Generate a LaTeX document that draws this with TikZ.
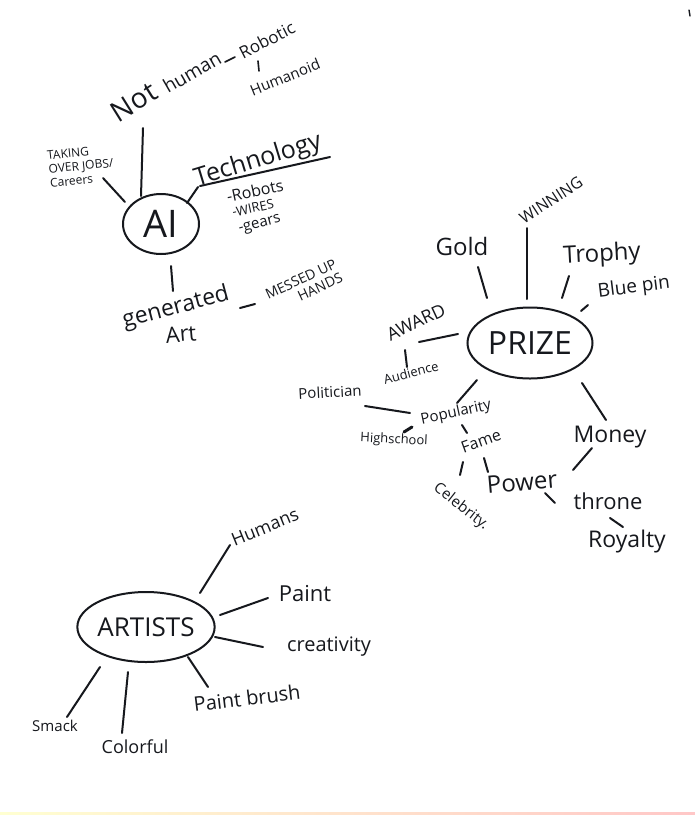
\documentclass[tikz,border=0pt]{standalone}
\usepackage{fontspec}
\setmainfont{Open Sans}
\usetikzlibrary{shapes.geometric}
\definecolor{ink}{HTML}{16181D}
\newcommand{\hsz}[1]{\fontsize{#1}{#1}\selectfont}
\begin{document}
\begin{tikzpicture}[x=1pt,y=-1pt,
  hw/.style={text=ink, inner sep=0pt, anchor=center},
  conn/.style={draw=ink, line width=2pt, line cap=round},
  bubble/.style={draw=ink, line width=2pt, ellipse, inner sep=0pt, text=ink}]
\useasboundingbox (0,0) rectangle (695,815);
\fill[white] (0,0) rectangle (695,815);
\shade[left color=yellow!18, right color=red!22] (0,812) rectangle (695,815);
\draw[ink, line width=1.4pt, line cap=round] (689,10) -- (690,16);

% ---------------- AI ----------------
\node[bubble, minimum width=76pt, minimum height=60pt, font=\hsz{38}] (ai) at (161,224) {AI};
\node[hw, font=\hsz{28}, rotate=32] (not) at (134,102) {Not};
\node[hw, font=\hsz{19}, rotate=30] (human) at (192,72) {human};
\node[hw, font=\hsz{17}, rotate=27] (robotic) at (267,40) {Robotic};
\node[hw, font=\hsz{15}, rotate=22] (humanoid) at (285,77) {Humanoid};
\node[hw, font=\fontsize{12}{14}\selectfont, align=left, rotate=6] (jobs) at (81,166) {TAKING\\OVER JOBS/\\Careers};
\node[hw, font=\hsz{25}, rotate=17] (tech) at (258,161) {Technology};
\node[hw, font=\hsz{16}, rotate=12] (robots) at (255,191) {-Robots};
\node[hw, font=\hsz{13}, rotate=12] (wires) at (253,208) {-WIRES};
\node[hw, font=\hsz{15}, rotate=15] (gears) at (260,225) {-gears};
\node[hw, font=\hsz{23}, rotate=15] (gen) at (176,308) {generated};
\node[hw, font=\hsz{22}, rotate=5] (art) at (181,334) {Art};
\node[hw, font=\fontsize{14}{15}\selectfont, align=right, rotate=25] (messed) at (304,286) {MESSED UP\\HANDS};

\coordinate (c1a) at (141,196); \coordinate (c1b) at (143,128);
\coordinate (c2a) at (125,202); \coordinate (c2b) at (103,178);
\coordinate (c3a) at (187,203); \coordinate (c3b) at (198,187);
\coordinate (u1a) at (200,186); \coordinate (u1b) at (330,157);
\coordinate (c4a) at (171,266); \coordinate (c4b) at (173,291);
\coordinate (c5a) at (240,308); \coordinate (c5b) at (255,304);
\coordinate (c6a) at (225,62);  \coordinate (c6b) at (235,57);
\coordinate (c7a) at (258,61);  \coordinate (c7b) at (259,71);
\draw[conn] (c1a) -- (c1b);
\draw[conn] (c2a) -- (c2b);
\draw[conn] (c3a) -- (c3b);
\draw[conn] (u1a) -- (u1b);
\draw[conn] (c4a) -- (c4b);
\draw[conn] (c5a) -- (c5b);
\draw[conn, line width=1.6pt] (c6a) -- (c6b);
\draw[conn, line width=1.6pt] (c7a) -- (c7b);

% ---------------- PRIZE ----------------
\node[bubble, minimum width=125pt, minimum height=71pt, font=\hsz{32}] (prize) at (530,343) {PRIZE};
\node[hw, font=\hsz{16}, rotate=33] (winning) at (551,200) {WINNING};
\node[hw, font=\hsz{24}] (gold) at (462,246) {Gold};
\node[hw, font=\hsz{24}, rotate=3] (trophy) at (602,255) {Trophy};
\node[hw, font=\hsz{19}, rotate=7] (bluepin) at (634,288) {Blue pin};
\node[hw, font=\hsz{18}, rotate=25] (award) at (416,322) {AWARD};
\node[hw, font=\hsz{13}, rotate=15] (audience) at (411,373) {Audience};
\node[hw, font=\hsz{15}, rotate=3] (politician) at (330,392) {Politician};
\node[hw, font=\hsz{15}, rotate=12] (popularity) at (456,413) {Popularity};
\node[hw, font=\hsz{13}, rotate=-3] (highschool) at (394,440) {Highschool};
\node[hw, font=\hsz{16}, rotate=20] (fame) at (481,441) {Fame};
\node[hw, font=\hsz{15}, rotate=-38] (celebrity) at (461,507) {Celebrity.};
\node[hw, font=\hsz{24}, rotate=5] (power) at (522,482) {Power};
\node[hw, font=\hsz{23}] (money) at (610,437) {Money};
\node[hw, font=\hsz{22}] (throne) at (608,501) {throne};
\node[hw, font=\hsz{23}] (royalty) at (627,542) {Royalty};

\coordinate (p1a) at (527,299); \coordinate (p1b) at (527,228);
\coordinate (p2a) at (487,298); \coordinate (p2b) at (478,267);
\coordinate (p3a) at (562,298); \coordinate (p3b) at (569,276);
\coordinate (p4a) at (581,311); \coordinate (p4b) at (588,305);
\coordinate (p5a) at (458,334); \coordinate (p5b) at (419,342);
\coordinate (p6a) at (405,350); \coordinate (p6b) at (407,367);
\coordinate (p7a) at (477,380); \coordinate (p7b) at (457,403);
\coordinate (p8a) at (410,413); \coordinate (p8b) at (365,406);
\coordinate (p9a) at (412,427); \coordinate (p9b) at (404,432);
\coordinate (p10a) at (462,425); \coordinate (p10b) at (467,433);
\coordinate (p11a) at (463,462); \coordinate (p11b) at (460,475);
\coordinate (p12a) at (484,458); \coordinate (p12b) at (488,472);
\coordinate (p13a) at (573,470); \coordinate (p13b) at (592,448);
\coordinate (p14a) at (582,383); \coordinate (p14b) at (606,420);
\coordinate (p15a) at (545,493); \coordinate (p15b) at (555,503);
\coordinate (p16a) at (610,518); \coordinate (p16b) at (623,527);
\draw[conn] (p1a) -- (p1b);
\draw[conn] (p2a) -- (p2b);
\draw[conn] (p3a) -- (p3b);
\draw[conn] (p4a) -- (p4b);
\draw[conn] (p5a) -- (p5b);
\draw[conn] (p6a) -- (p6b);
\draw[conn] (p7a) -- (p7b);
\draw[conn] (p8a) -- (p8b);
\draw[conn, line width=3pt] (p9a) -- (p9b);
\draw[conn] (p10a) -- (p10b);
\draw[conn] (p11a) -- (p11b);
\draw[conn] (p12a) -- (p12b);
\draw[conn] (p13a) -- (p13b);
\draw[conn] (p14a) -- (p14b);
\draw[conn] (p15a) -- (p15b);
\draw[conn] (p16a) -- (p16b);

% ---------------- ARTISTS ----------------
\node[bubble, minimum width=128pt, minimum height=70pt, font=\hsz{26}] (artists) at (146,627) {ARTISTS};
\node[hw, font=\hsz{18}, rotate=22] (humans) at (265,527) {Humans};
\node[hw, font=\hsz{22}] (paint) at (305,594) {Paint};
\node[hw, font=\hsz{20}] (creativity) at (329,647) {creativity};
\node[hw, font=\hsz{20}, rotate=7] (brush) at (247,698) {Paint brush};
\node[hw, font=\hsz{15}] (smack) at (55,726) {Smack};
\node[hw, font=\hsz{18}] (colorful) at (135,747) {Colorful};

\coordinate (a1a) at (200,593); \coordinate (a1b) at (230,545);
\coordinate (a2a) at (220,615); \coordinate (a2b) at (268,598);
\coordinate (a3a) at (215,637); \coordinate (a3b) at (263,647);
\coordinate (a4a) at (188,657); \coordinate (a4b) at (208,687);
\coordinate (a5a) at (100,667); \coordinate (a5b) at (67,717);
\coordinate (a6a) at (128,672); \coordinate (a6b) at (122,733);
\draw[conn] (a1a) -- (a1b);
\draw[conn] (a2a) -- (a2b);
\draw[conn] (a3a) -- (a3b);
\draw[conn] (a4a) -- (a4b);
\draw[conn] (a5a) -- (a5b);
\draw[conn] (a6a) -- (a6b);
\end{tikzpicture}
\end{document}
